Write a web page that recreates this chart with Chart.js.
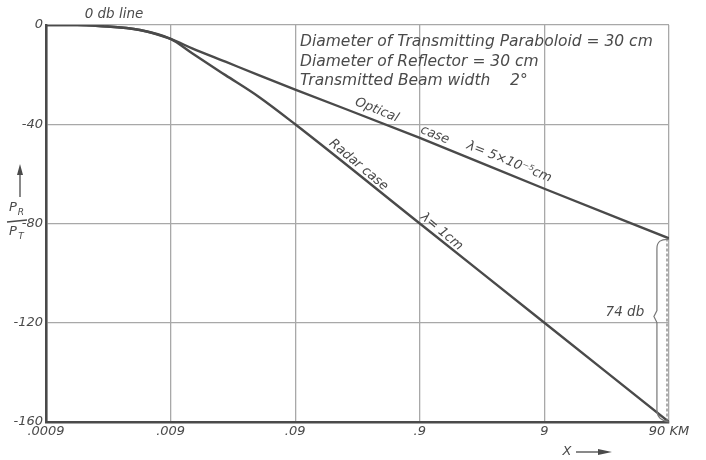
<!DOCTYPE html>
<html>
<head>
<meta charset="utf-8">
<script src="https://cdn.jsdelivr.net/npm/chart.js@4.4.0/dist/chart.umd.min.js"></script>
<style>
  html, body { margin: 0; padding: 0; background: #fff; }
  #wrap { width: 706px; height: 460px; }
</style>
</head>
<body>
<div id="wrap"><canvas id="chart" width="706" height="460"></canvas></div>
<script>
// distances in km (log axis) and received / transmitted power in db
const tickValues = [0.0009, 0.009, 0.09, 0.9, 9, 90];
const tickLabels = ['.0009', '.009', '.09', '.9', '9', '90 KM'];

const opticalX  = [0.0009, 0.0016, 0.0024, 0.0051, 0.009, 0.0134, 0.0248, 0.0458, 0.09, 0.9, 9, 90];
const opticalDb = [0, 0, -0.4, -2, -5.6, -9.4, -14.8, -20.2, -26, -45.5, -66, -86];

const radarX  = [0.0009, 0.0016, 0.0024, 0.0051, 0.009, 0.0134, 0.0248, 0.0458, 0.09, 0.9, 9, 90];
const radarDb = [0, 0, -0.4, -2, -5.6, -11.4, -20.2, -28.9, -40, -80, -120, -160];

const ink = '#4a4a4a';
const gridInk = '#a8a8a8';

const toPoints = (xs, ys) => xs.map((x, i) => ({ x: x, y: ys[i] }));

const notes = {
  id: 'notes',
  afterDraw(chart) {
    const ctx = chart.ctx;
    const xs = chart.scales.x, ys = chart.scales.y;
    const px = v => xs.getPixelForValue(v);
    const py = v => ys.getPixelForValue(v);
    ctx.save();
    ctx.fillStyle = ink;
    ctx.strokeStyle = ink;

    const text = (s, x, y, ang, size, align) => {
      ctx.save();
      ctx.translate(x, y);
      ctx.rotate((ang || 0) * Math.PI / 180);
      ctx.font = 'italic ' + (size || 13) + 'px "DejaVu Sans", sans-serif';
      ctx.textAlign = align || 'center';
      ctx.textBaseline = 'middle';
      ctx.fillText(s, 0, 0);
      ctx.restore();
    };

    const left = chart.chartArea.left, top = chart.chartArea.top;

    // title block
    text('Diameter of Transmitting Paraboloid = 30 cm', left + 254, top + 17, 0, 15.5, 'left');
    text('Diameter of Reflector = 30 cm', left + 254, top + 37, 0, 15.5, 'left');
    text('Transmitted Beam width    2°', left + 254, top + 56, 0, 15.5, 'left');

    text('0 db line', left + 68, top - 11, 0, 13.5, 'center');

    // curve labels
    text('Optical', px(0.406), py(-34.3), 22, 13);
    text('case', px(1.19), py(-44.3), 22, 13);
    text('λ= 5×10⁻⁵cm', px(4.7), py(-55.2), 22, 13);
    text('Radar case', px(0.29), py(-56.4), 40, 13);
    text('λ= 1cm', px(1.35), py(-83.3), 40, 13);

    // 74 db bracket
    const bx = px(72), rx = px(90);
    const yT = py(-86), yB = py(-160), yM = py(-117.5);
    ctx.lineWidth = 1.2;
    ctx.strokeStyle = '#777';
    ctx.beginPath();
    ctx.moveTo(rx, yT + 1);
    ctx.quadraticCurveTo(bx, yT, bx, yT + 10);
    ctx.lineTo(bx, yM - 6);
    ctx.lineTo(bx - 3, yM);
    ctx.lineTo(bx, yM + 6);
    ctx.lineTo(bx, yB - 12);
    ctx.quadraticCurveTo(bx, yB - 2, rx, yB);
    ctx.stroke();
    ctx.setLineDash([3, 2]);
    ctx.beginPath();
    ctx.moveTo(rx - 2, yT);
    ctx.lineTo(rx - 2, yB);
    ctx.stroke();
    ctx.setLineDash([]);
    text('74 db', bx - 32, yM - 4, 0, 13.5);

    // y axis title: arrow and Pr/Pt
    ctx.fillStyle = ink;
    ctx.strokeStyle = ink;
    ctx.lineWidth = 1.3;
    ctx.beginPath();
    ctx.moveTo(20, 197);
    ctx.lineTo(20, 170);
    ctx.stroke();
    ctx.beginPath();
    ctx.moveTo(20, 164);
    ctx.lineTo(17, 175);
    ctx.lineTo(23, 175);
    ctx.closePath();
    ctx.fill();
    text('P', 13, 208, 0, 13);
    text('R', 21, 213, 0, 9);
    ctx.beginPath();
    ctx.moveTo(7, 222);
    ctx.lineTo(27, 220);
    ctx.stroke();
    text('P', 13, 232, 0, 13);
    text('T', 21, 237, 0, 9);

    // x axis title
    text('X', 567, 452, 0, 13);
    ctx.beginPath();
    ctx.moveTo(576, 452);
    ctx.lineTo(600, 452);
    ctx.stroke();
    ctx.beginPath();
    ctx.moveTo(612, 452);
    ctx.lineTo(598, 449);
    ctx.lineTo(598, 455);
    ctx.closePath();
    ctx.fill();

    ctx.restore();
  }
};

new Chart(document.getElementById('chart'), {
  type: 'line',
  data: {
    datasets: [{
      label: 'Optical case',
      data: toPoints(opticalX, opticalDb),
      borderColor: ink,
      borderWidth: 2.4,
      pointRadius: 0,
      fill: false,
      cubicInterpolationMode: 'monotone'
    }, {
      label: 'Radar case',
      data: toPoints(radarX, radarDb),
      borderColor: ink,
      borderWidth: 2.4,
      pointRadius: 0,
      fill: false,
      cubicInterpolationMode: 'monotone'
    }]
  },
  options: {
    responsive: false,
    animation: false,
    layout: { padding: { top: 25, right: 37, left: 0, bottom: 0 } },
    plugins: { legend: { display: false }, tooltip: { enabled: false } },
    scales: {
      x: {
        type: 'logarithmic',
        min: 0.0009,
        max: 90,
        afterBuildTicks: scale => { scale.ticks = tickValues.map(v => ({ value: v })); },
        afterFit: scale => { scale.height = 38; },
        ticks: {
          autoSkip: false,
          maxRotation: 0,
          padding: 2,
          color: ink,
          font: { family: '"DejaVu Sans", sans-serif', style: 'italic', size: 13 },
          callback: (v, i) => tickLabels[i]
        },
        grid: { color: gridInk, lineWidth: 1.3, drawTicks: false },
        border: { color: ink, width: 2.6 }
      },
      y: {
        min: -160,
        max: 0,
        afterFit: scale => { scale.width = 46; },
        ticks: {
          stepSize: 40,
          padding: 3,
          color: ink,
          font: { family: '"DejaVu Sans", sans-serif', style: 'italic', size: 13 }
        },
        grid: { color: gridInk, lineWidth: 1.3, drawTicks: false },
        border: { color: ink, width: 2.6 }
      }
    }
  },
  plugins: [notes]
});
</script>
</body>
</html>
